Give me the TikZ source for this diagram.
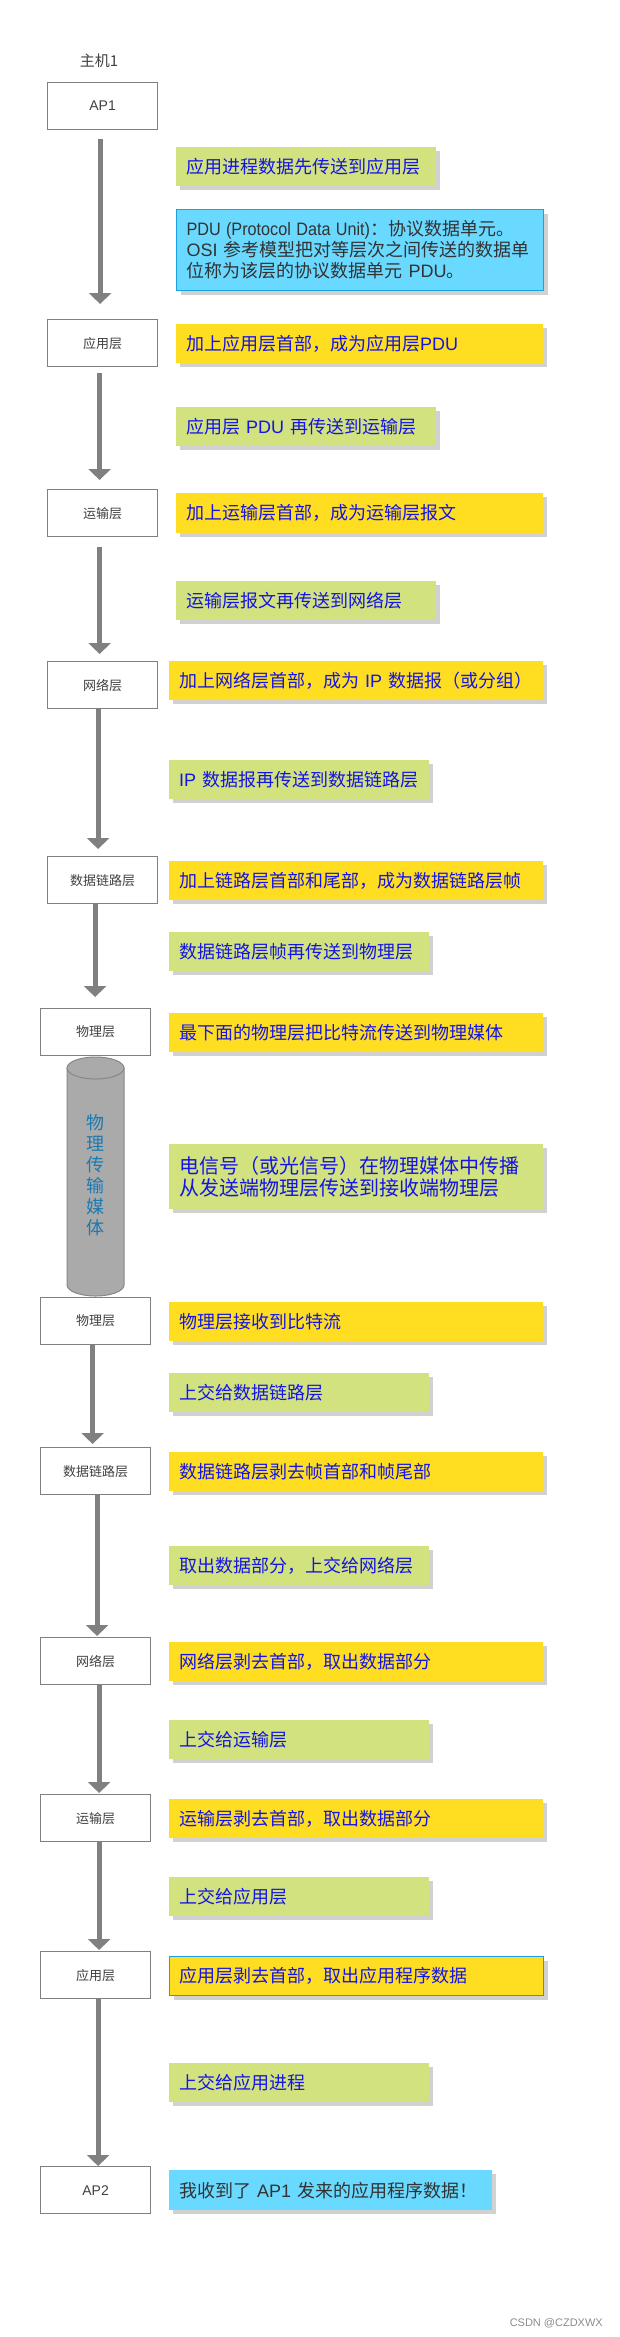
\documentclass[tikz,border=0pt]{standalone}
\usepackage{graphicx}
\usepackage{fontspec}
\setmainfont{Noto Sans CJK SC}
\newfontfamily\latinf{Liberation Sans}
\usetikzlibrary{arrows.meta,shadows}
\definecolor{ygold}{RGB}{255,222,34}
\definecolor{lgreen}{RGB}{210,226,126}
\definecolor{skyb}{RGB}{106,217,255}
\definecolor{skyborder}{RGB}{27,161,226}
\definecolor{txtblue}{RGB}{20,20,230}
\definecolor{boxgray}{RGB}{128,128,128}
\definecolor{arrgray}{RGB}{128,128,128}
\definecolor{medgray}{RGB}{170,170,170}
\definecolor{cylgray}{RGB}{135,135,135}
\definecolor{medtext}{RGB}{26,122,178}
\definecolor{darktext}{RGB}{50,50,50}
\begin{document}
\begin{tikzpicture}[x=1pt,y=-1pt,
  layer/.style={draw=boxgray, line width=1.2pt, fill=white, minimum width=110pt,
    minimum height=47pt, inner sep=0pt, anchor=north west, text=black!75,
    font=\fontsize{13}{15}\selectfont},
  aplayer/.style={layer, font=\latinf\fontsize{14}{16}\selectfont},
  note/.style={anchor=north west, inner xsep=10pt, inner ysep=0pt, align=left,
    text=txtblue, font=\fontsize{18}{21}\selectfont, minimum height=39pt,
    drop shadow={shadow xshift=4pt, shadow yshift=-4pt, fill=black, opacity=0.18}},
  ynote/.style={note, fill=ygold},
  gnote/.style={note, fill=lgreen},
  bnote/.style={note, fill=skyb, text=darktext},
  wide/.style={text width=347pt},
  lwide/.style={text width=354pt},
  short/.style={text width=240pt},
  arr/.style={draw=arrgray, line width=5pt, -{Triangle[width=22pt,length=11pt]}}
]
\useasboundingbox (0,0) rectangle (619,2337);
\fill[white] (0,0) rectangle (619,2337);

% title
\node[font=\fontsize{15}{17}\selectfont, text=black!75] (host) at (99,61) {主机1};

% left layer boxes
\node[aplayer] (ap1)  at (47,82)   {AP1};
\node[layer]   (app1) at (47,319)  {应用层};
\node[layer]   (tra1) at (47,489)  {运输层};
\node[layer]   (net1) at (47,661)  {网络层};
\node[layer]   (dl1)  at (47,856)  {数据链路层};
\node[layer]   (ph1)  at (40,1008) {物理层};
\node[layer]   (ph2)  at (40,1297) {物理层};
\node[layer]   (dl2)  at (40,1447) {数据链路层};
\node[layer]   (net2) at (40,1637) {网络层};
\node[layer]   (tra2) at (40,1794) {运输层};
\node[layer]   (app2) at (40,1951) {应用层};
\node[aplayer] (ap2)  at (40,2166) {AP2};

% physical medium cylinder
\draw[fill=medgray, draw=cylgray, line width=1pt]
  (67,1068) -- (67,1285) arc[start angle=180, end angle=360, x radius=28.5pt, y radius=11pt]
  -- (124,1068) -- cycle;
\draw[fill=medgray, draw=cylgray, line width=1pt] (95.5,1068) ellipse [x radius=28.5pt, y radius=11pt];
\node[text=medtext, font=\fontsize{18}{21}\selectfont, align=center, inner sep=0pt] (medium) at (95.5,1175)
  {物\\理\\传\\输\\媒\\体};

% right-hand notes
\node[gnote, short] (g1) at (176,147) {应用进程数据先传送到应用层};
\node[bnote, wide, draw=skyborder, line width=1pt, minimum height=81pt] (pdu) at (176,209)
  {\mbox{\scalebox{0.9}[1]{\latinf PDU (Protocol Data Unit)}：协议数据单元。}\\\mbox{{\latinf OSI} 参考模型把对等层次之间传送的数据单}\\\mbox{位称为该层的协议数据单元 {\latinf PDU}。}};
\node[ynote, wide] (y1) at (176,324) {加上应用层首部，成为应用层{\latinf PDU}};
\node[gnote, short] (g2) at (176,407) {应用层 {\latinf PDU} 再传送到运输层};
\node[ynote, wide, minimum height=40pt] (y2) at (176,493) {加上运输层首部，成为运输层报文};
\node[gnote, short] (g3) at (176,581) {运输层报文再传送到网络层};
\node[ynote, lwide] (y3) at (169,661) {加上网络层首部，成为 {\latinf IP} 数据报（或分组）};
\node[gnote, short] (g4) at (169,760) {{\latinf IP} 数据报再传送到数据链路层};
\node[ynote, lwide] (y4) at (169,861) {加上链路层首部和尾部，成为数据链路层帧};
\node[gnote, short] (g5) at (169,932) {数据链路层帧再传送到物理层};
\node[ynote, lwide] (y5) at (169,1013) {最下面的物理层把比特流传送到物理媒体};
\node[gnote, lwide, minimum height=65pt, font=\fontsize{20}{22}\selectfont] (g6) at (169,1144)
  {电信号（或光信号）在物理媒体中传播\\从发送端物理层传送到接收端物理层};
\node[ynote, lwide] (y6) at (169,1302) {物理层接收到比特流};
\node[gnote, short] (g7) at (169,1373) {上交给数据链路层};
\node[ynote, lwide] (y7) at (169,1452) {数据链路层剥去帧首部和帧尾部};
\node[gnote, short] (g8) at (169,1546) {取出数据部分，上交给网络层};
\node[ynote, lwide] (y8) at (169,1642) {网络层剥去首部，取出数据部分};
\node[gnote, short] (g9) at (169,1720) {上交给运输层};
\node[ynote, lwide] (y9) at (169,1799) {运输层剥去首部，取出数据部分};
\node[gnote, short] (g10) at (169,1877) {上交给应用层};
\node[ynote, lwide, draw=skyborder, line width=1pt] (y10) at (169,1956) {应用层剥去首部，取出应用程序数据};
\node[gnote, short] (g11) at (169,2063) {上交给应用进程};
\node[bnote, text width=303pt, minimum height=40pt] (fin) at (169,2170) {我收到了 {\latinf AP1} 发来的应用程序数据！};

% arrows
\draw[arr, shorten <=9pt, shorten >=15pt] ([xshift=-2.5pt]ap1.south) -- ([xshift=-2.5pt]ap1.south |- app1.north);
\draw[arr, shorten <=6pt, shorten >=9pt] ([xshift=-3pt]app1.south) -- ([xshift=-3pt]app1.south |- tra1.north);
\draw[arr, shorten <=10pt, shorten >=7pt] ([xshift=-3pt]tra1.south) -- ([xshift=-3pt]tra1.south |- net1.north);
\draw[arr, shorten >=7pt] ([xshift=-4.5pt]net1.south) -- ([xshift=-4.5pt]net1.south |- dl1.north);
\draw[arr, shorten >=11pt] ([xshift=-7.5pt]dl1.south) -- ([xshift=-7.5pt]dl1.south |- ph1.north);
\draw[arr, shorten >=3pt] ([xshift=-3pt]ph2.south) -- ([xshift=-3pt]ph2.south |- dl2.north);
\draw[arr, shorten >=1pt] ([xshift=1.5pt]dl2.south) -- ([xshift=1.5pt]dl2.south |- net2.north);
\draw[arr, shorten >=1pt] ([xshift=3.5pt]net2.south) -- ([xshift=3.5pt]net2.south |- tra2.north);
\draw[arr, shorten >=1pt] ([xshift=3.5pt]tra2.south) -- ([xshift=3.5pt]tra2.south |- app2.north);
\draw[arr] ([xshift=2.5pt]app2.south) -- ([xshift=2.5pt]app2.south |- ap2.north);

% watermark
\node[text=black!45, font=\latinf\fontsize{11}{13}\selectfont, anchor=east, inner sep=0pt] (wm) at (603,2323) {CSDN @CZDXWX};
\end{tikzpicture}
\end{document}
